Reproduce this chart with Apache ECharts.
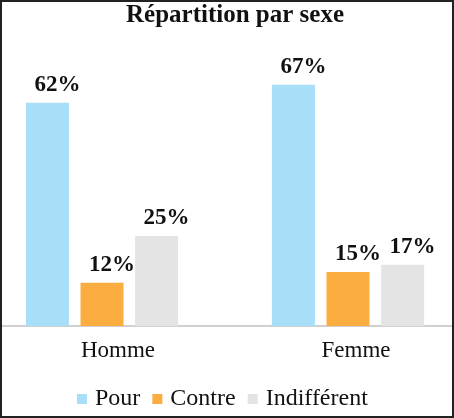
<!DOCTYPE html>
<html>
<head>
<meta charset="utf-8">
<script src="https://cdn.jsdelivr.net/npm/echarts@6/dist/echarts.min.js"></script>
<style>
  html, body { margin: 0; padding: 0; background: #fff; }
  #wrap { position: relative; width: 454px; height: 418px; overflow: hidden; }
  /* the category bands are wider than the window, so the canvas spills a bit on both sides */
  #chart { position: absolute; left: -21px; top: 0; width: 492px; height: 418px; }
  #frame { position: absolute; left: 0; top: 0; width: 454px; height: 418px;
           box-sizing: border-box; border: 2px solid #222; pointer-events: none; }
</style>
</head>
<body>
<div id="wrap">
  <div id="chart"></div>
  <div id="frame"></div>
</div>
<script>
var categories = ['Homme', 'Femme'];
var seriesNames = ['Pour', 'Contre', 'Indifférent'];
var pourValues = [62, 67];
var contreValues = [12, 15];
var indifValues = [25, 17];

var colors = ['#A8DEF8', '#FBAD3F', '#E4E4E4'];
var serif = 'Liberation Serif, Times New Roman, serif';

var chart = echarts.init(document.getElementById('chart'));

function makeSeries(name, data, color) {
  return {
    name: name,
    type: 'bar',
    data: data,
    barWidth: 43,
    barGap: '27%',
    itemStyle: { color: color },
    label: {
      show: true,
      position: 'top',
      distance: 5,
      offset: [10, -1],
      formatter: '{c}%',
      fontFamily: serif,
      fontWeight: 'bold',
      fontSize: 23,
      color: '#111'
    }
  };
}

chart.setOption({
  animation: false,
  title: {
    text: 'Répartition par sexe',
    left: 142,
    top: -2,
    textStyle: { fontFamily: serif, fontWeight: 'bold', fontSize: 25, color: '#111' }
  },
  legend: {
    data: seriesNames,
    top: 382,
    left: 93,
    itemWidth: 10,
    itemHeight: 10,
    itemGap: 12,
    icon: 'rect',
    textStyle: { fontFamily: serif, fontSize: 24, color: '#111', padding: [0, 0, 0, 3] }
  },
  grid: {
    left: 0,
    right: 0,
    top: 74,
    bottom: 92,
    containLabel: false
  },
  xAxis: {
    type: 'category',
    data: categories,
    axisLine: { lineStyle: { color: '#D0D0D0', width: 2 } },
    axisTick: { show: false },
    axisLabel: {
      fontFamily: serif,
      fontSize: 23,
      color: '#111',
      margin: 13,
      formatter: function (v, i) {
        return i === 0 ? '{a|' + v + '}' : '{b|' + v + '}';
      },
      rich: {
        a: { fontFamily: serif, fontSize: 23, color: '#111', padding: [0, 0, 0, 32] },
        b: { fontFamily: serif, fontSize: 23, color: '#111', padding: [0, 0, 0, 16] }
      }
    }
  },
  yAxis: {
    type: 'value',
    min: 0,
    max: 70,
    show: false,
    splitLine: { show: false }
  },
  series: [
    makeSeries(seriesNames[0], pourValues, colors[0]),
    makeSeries(seriesNames[1], contreValues, colors[1]),
    makeSeries(seriesNames[2], indifValues, colors[2])
  ]
});
</script>
</body>
</html>
